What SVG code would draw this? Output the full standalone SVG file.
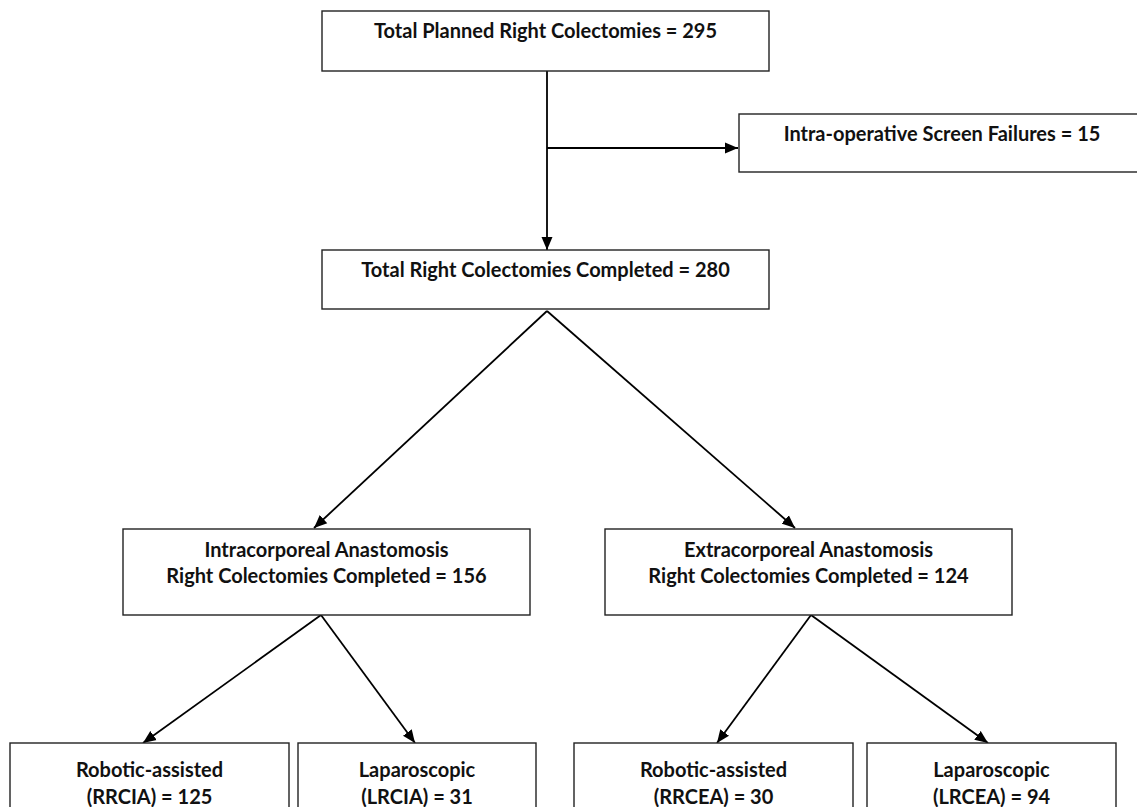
<svg xmlns="http://www.w3.org/2000/svg" width="1137" height="807" viewBox="0 0 1137 807">
<defs>
<marker id="arr" markerUnits="userSpaceOnUse" markerWidth="14" markerHeight="12" refX="13" refY="6" orient="auto">
<path d="M0,0.5 L13,6 L0,11.5 Z" fill="#000"/>
</marker>
<style>
.box{fill:#fff;stroke:#222;stroke-width:1.4}
.t{font-family:Lato,"Open Sans","Liberation Sans",sans-serif;font-weight:bold;font-size:20px;fill:#111;text-anchor:middle}
.c{fill:none;stroke:#000;stroke-width:1.8;marker-end:url(#arr)}
</style>
</defs>
<rect width="1137" height="807" fill="#fff"/>
<g id="connectors">
<path class="c" d="M547,71 L547,250"/>
<path class="c" d="M547,148 L738,148"/>
<path class="c" d="M547,311 L314,528"/>
<path class="c" d="M547,311 L795,528"/>
<path class="c" d="M321,615 L143,743"/>
<path class="c" d="M321,615 L415,743"/>
<path class="c" d="M811,615 L717,743"/>
<path class="c" d="M811,615 L988,743"/>
</g>
<g id="n_total_planned">
<rect class="box" x="322" y="11" width="447" height="60"/>
<text class="t" x="545.5" y="38">Total Planned Right Colectomies = 295</text>
</g>
<g id="n_screen_fail">
<rect class="box" x="739" y="114" width="410" height="58"/>
<text class="t" x="942" y="141">Intra-operative Screen Failures = 15</text>
</g>
<g id="n_completed">
<rect class="box" x="322" y="250" width="447" height="59"/>
<text class="t" x="545.5" y="277">Total Right Colectomies Completed = 280</text>
</g>
<g id="n_intra">
<rect class="box" x="123" y="529" width="407" height="86"/>
<text class="t" x="326.5" y="557">Intracorporeal Anastomosis</text>
<text class="t" x="326.5" y="583">Right Colectomies Completed = 156</text>
</g>
<g id="n_extra">
<rect class="box" x="605" y="529" width="407" height="86"/>
<text class="t" x="808.5" y="557">Extracorporeal Anastomosis</text>
<text class="t" x="808.5" y="583">Right Colectomies Completed = 124</text>
</g>
<g id="n_rrcia">
<rect class="box" x="10" y="743" width="279" height="80"/>
<text class="t" x="149.5" y="777">Robotic-assisted</text>
<text class="t" x="149.5" y="804">(RRCIA) = 125</text>
</g>
<g id="n_lrcia">
<rect class="box" x="298" y="743" width="238" height="80"/>
<text class="t" x="417" y="777">Laparoscopic</text>
<text class="t" x="417" y="804">(LRCIA) = 31</text>
</g>
<g id="n_rrcea">
<rect class="box" x="574" y="743" width="279" height="80"/>
<text class="t" x="713.5" y="777">Robotic-assisted</text>
<text class="t" x="713.5" y="804">(RRCEA) = 30</text>
</g>
<g id="n_lrcea">
<rect class="box" x="867" y="743" width="249" height="80"/>
<text class="t" x="991.5" y="777">Laparoscopic</text>
<text class="t" x="991.5" y="804">(LRCEA) = 94</text>
</g>
</svg>
